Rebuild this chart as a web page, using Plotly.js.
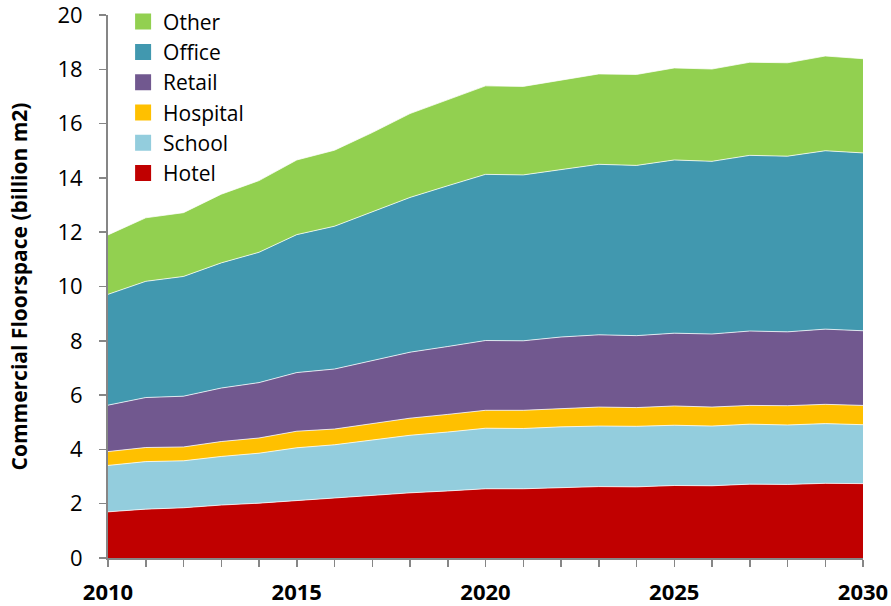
<!DOCTYPE html>
<html>
<head>
<meta charset="utf-8">
<script src="https://cdn.plot.ly/plotly-3.0.1.min.js"></script>
<style>html,body{margin:0;padding:0;background:#fff;}#chart{width:891px;height:606px;}</style>
</head>
<body>
<div id="chart"></div>
<script>
var years = [2010,2011,2012,2013,2014,2015,2016,2017,2018,2019,2020,2021,2022,2023,2024,2025,2026,2027,2028,2029,2030];
var hotel    = [1.70,1.80,1.85,1.95,2.02,2.12,2.20,2.30,2.40,2.47,2.55,2.55,2.60,2.63,2.62,2.67,2.66,2.72,2.71,2.75,2.74];
var school   = [1.71,1.75,1.73,1.79,1.84,1.94,1.97,2.04,2.12,2.17,2.23,2.22,2.23,2.23,2.23,2.22,2.20,2.21,2.19,2.20,2.17];
var hospital = [0.51,0.52,0.51,0.55,0.56,0.61,0.58,0.61,0.63,0.65,0.66,0.67,0.68,0.70,0.69,0.71,0.70,0.69,0.71,0.71,0.71];
var retail   = [1.71,1.84,1.87,1.97,2.04,2.16,2.21,2.33,2.43,2.50,2.57,2.56,2.63,2.66,2.65,2.68,2.69,2.74,2.72,2.77,2.75];
var office   = [4.08,4.28,4.41,4.61,4.80,5.08,5.26,5.48,5.70,5.92,6.12,6.11,6.17,6.28,6.27,6.38,6.36,6.47,6.47,6.57,6.55];
var other    = [2.19,2.34,2.35,2.53,2.64,2.75,2.80,2.91,3.09,3.18,3.26,3.26,3.29,3.33,3.35,3.39,3.40,3.43,3.44,3.49,3.47];

var seriesNames = ['Hotel','School','Hospital','Retail','Office','Other'];
var seriesData  = [hotel, school, hospital, retail, office, other];
var colors = ['#C00000','#93CDDD','#FFC000','#71588F','#4198AF','#92D050'];

var traces = [];
seriesNames.forEach(function(n, i){
  traces.push({
    x: years, y: seriesData[i], name: n, type: 'scatter', mode: 'lines',
    stackgroup: 'one', fillcolor: colors[i],
    line: {color: 'rgba(255,255,255,0.75)', width: 1},
    showlegend: false, hoverinfo: 'x+y+name'
  });
});
// legend entries as square markers
seriesNames.forEach(function(n, i){
  traces.push({
    x: [null], y: [null], name: n, type: 'scatter', mode: 'markers',
    marker: {symbol: 'square', size: 18, color: colors[i]},
    showlegend: true, hoverinfo: 'skip'
  });
});

var axisGrey = '#868686';
var layout = {
  width: 891, height: 606,
  margin: {l: 108, r: 28, t: 15, b: 48, autoexpand: false},
  paper_bgcolor: '#fff', plot_bgcolor: '#fff',
  font: {family: 'Open Sans, sans-serif', color: '#000'},
  showlegend: true,
  legend: {
    x: 0.02, xanchor: 'left', y: 1.025, yanchor: 'top',
    traceorder: 'reversed', bgcolor: 'rgba(0,0,0,0)',
    font: {size: 21, family: 'Open Sans, sans-serif', color: '#000'},
    itemwidth: 30, tracegroupgap: 0
  },
  xaxis: {
    range: [2010, 2030], tickmode: 'linear', tick0: 2010, dtick: 5,
    ticks: 'outside', ticklen: 7, tickwidth: 1.5, tickcolor: axisGrey,
    minor: {dtick: 1, ticks: 'outside', ticklen: 7, tickwidth: 1.5, tickcolor: axisGrey, showgrid: false},
    showline: true, linecolor: axisGrey, linewidth: 2,
    showgrid: false, zeroline: false, automargin: false, ticklabeloverflow: 'allow',
    tickfont: {size: 22, family: 'Open Sans, sans-serif', color: '#000', weight: 'bold'},
    ticklabelstandoff: 7, fixedrange: true
  },
  yaxis: {
    range: [0, 20], tickmode: 'linear', tick0: 0, dtick: 2,
    ticks: 'outside', ticklen: 7, tickwidth: 1.5, tickcolor: axisGrey,
    showline: true, linecolor: axisGrey, linewidth: 2,
    showgrid: false, zeroline: false, automargin: false, ticklabeloverflow: 'allow',
    tickfont: {size: 22, family: 'Open Sans, sans-serif', color: '#000'},
    ticklabelstandoff: 12,
    title: {text: 'Commercial Floorspace (billion m2)', standoff: 24,
            font: {size: 21, family: 'Open Sans, sans-serif', color: '#000', weight: 'bold'}},
    fixedrange: true
  }
};

Plotly.newPlot('chart', traces, layout, {displayModeBar: false, staticPlot: true});
</script>
</body>
</html>
